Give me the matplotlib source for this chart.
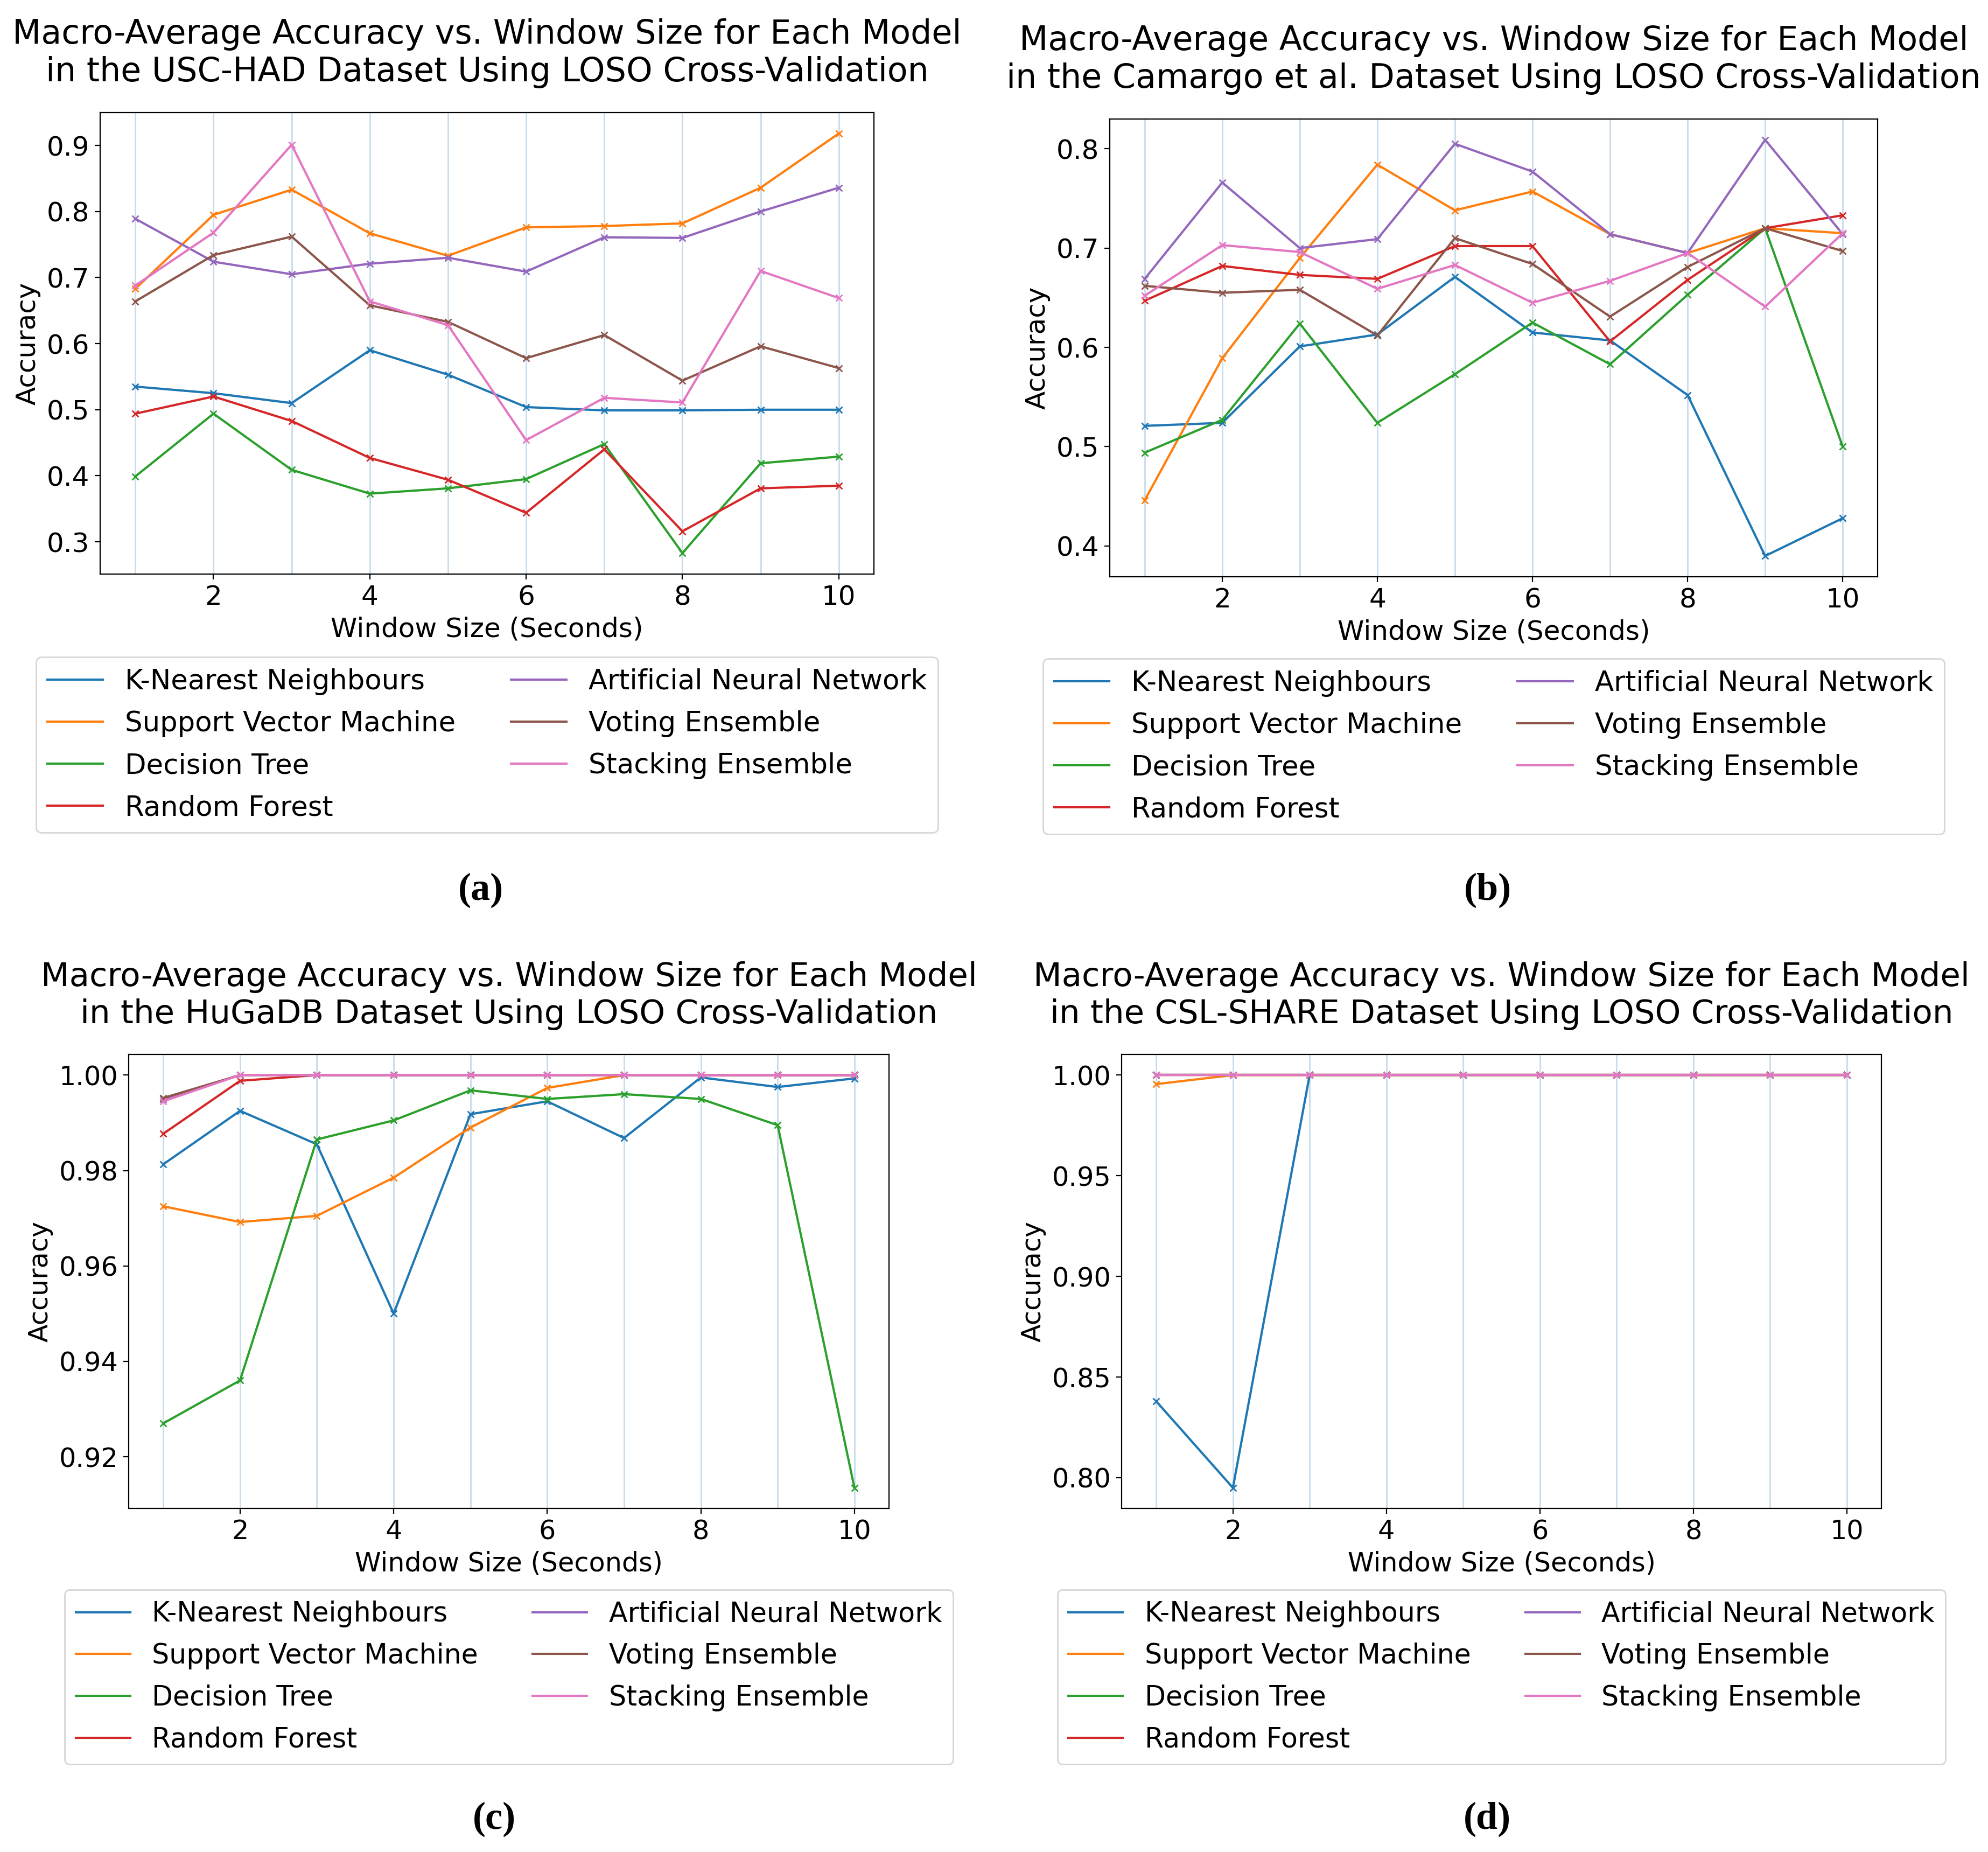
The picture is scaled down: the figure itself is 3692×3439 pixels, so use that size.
import matplotlib.pyplot as plt

plt.rcParams['font.family'] = 'DejaVu Sans'

window_sizes = [1, 2, 3, 4, 5, 6, 7, 8, 9, 10]
model_names = ['K-Nearest Neighbours', 'Support Vector Machine', 'Decision Tree',
               'Random Forest', 'Artificial Neural Network', 'Voting Ensemble',
               'Stacking Ensemble']
dataset_names = ['USC-HAD', 'Camargo et al.', 'HuGaDB', 'CSL-SHARE']
captions = ['(a)', '(b)', '(c)', '(d)']

# (a) USC-HAD
usc_knn = [0.535, 0.525, 0.510, 0.590, 0.553, 0.504, 0.499, 0.499, 0.500, 0.500]
usc_svm = [0.683, 0.795, 0.833, 0.767, 0.733, 0.776, 0.778, 0.782, 0.836, 0.918]
usc_dt = [0.399, 0.494, 0.409, 0.373, 0.381, 0.395, 0.448, 0.283, 0.419, 0.429]
usc_rf = [0.494, 0.520, 0.483, 0.427, 0.394, 0.344, 0.440, 0.316, 0.381, 0.385]
usc_ann = [0.789, 0.724, 0.705, 0.721, 0.730, 0.709, 0.761, 0.760, 0.800, 0.836]
usc_vote = [0.664, 0.734, 0.762, 0.658, 0.633, 0.578, 0.613, 0.544, 0.596, 0.563]
usc_stack = [0.688, 0.768, 0.901, 0.664, 0.628, 0.454, 0.518, 0.511, 0.710, 0.669]

# (b) Camargo et al.
cam_knn = [0.521, 0.524, 0.601, 0.613, 0.671, 0.615, 0.607, 0.552, 0.390, 0.428]
cam_svm = [0.446, 0.589, 0.690, 0.784, 0.738, 0.757, 0.714, 0.695, 0.720, 0.715]
cam_dt = [0.494, 0.527, 0.624, 0.524, 0.573, 0.625, 0.583, 0.653, 0.720, 0.500]
cam_rf = [0.647, 0.682, 0.673, 0.669, 0.702, 0.702, 0.606, 0.668, 0.720, 0.733]
cam_ann = [0.669, 0.766, 0.700, 0.709, 0.805, 0.777, 0.714, 0.695, 0.809, 0.714]
cam_vote = [0.662, 0.655, 0.658, 0.612, 0.710, 0.684, 0.631, 0.681, 0.720, 0.697]
cam_stack = [0.652, 0.703, 0.696, 0.659, 0.683, 0.645, 0.667, 0.695, 0.641, 0.715]

# (c) HuGaDB
hug_knn = [0.9813, 0.9925, 0.9855, 0.9500, 0.9918, 0.9945, 0.9868, 0.9995, 0.9975, 0.9993]
hug_svm = [0.9725, 0.9692, 0.9705, 0.9785, 0.9890, 0.9973, 1.0, 1.0, 1.0, 1.0]
hug_dt = [0.9270, 0.9360, 0.9865, 0.9905, 0.9968, 0.9950, 0.9960, 0.9950, 0.9895, 0.9135]
hug_rf = [0.9877, 0.9988, 1.0, 1.0, 1.0, 1.0, 1.0, 1.0, 1.0, 1.0]
hug_ann = [0.9950, 1.0, 1.0, 1.0, 1.0, 1.0, 1.0, 1.0, 1.0, 1.0]
hug_vote = [0.9952, 1.0, 1.0, 1.0, 1.0, 1.0, 1.0, 1.0, 1.0, 1.0]
hug_stack = [0.9945, 1.0, 1.0, 1.0, 1.0, 1.0, 1.0, 1.0, 1.0, 1.0]

# (d) CSL-SHARE
csl_knn = [0.838, 0.795, 1.0, 1.0, 1.0, 1.0, 1.0, 1.0, 1.0, 1.0]
csl_svm = [0.9955, 1.0, 1.0, 1.0, 1.0, 1.0, 1.0, 1.0, 1.0, 1.0]
csl_dt = [1.0, 1.0, 1.0, 1.0, 1.0, 1.0, 1.0, 1.0, 1.0, 1.0]
csl_rf = [1.0, 1.0, 1.0, 1.0, 1.0, 1.0, 1.0, 1.0, 1.0, 1.0]
csl_ann = [1.0, 1.0, 1.0, 1.0, 1.0, 1.0, 1.0, 1.0, 1.0, 1.0]
csl_vote = [1.0, 1.0, 1.0, 1.0, 1.0, 1.0, 1.0, 1.0, 1.0, 1.0]
csl_stack = [1.0, 1.0, 1.0, 1.0, 1.0, 1.0, 1.0, 1.0, 1.0, 1.0]

all_results = [
    [usc_knn, usc_svm, usc_dt, usc_rf, usc_ann, usc_vote, usc_stack],
    [cam_knn, cam_svm, cam_dt, cam_rf, cam_ann, cam_vote, cam_stack],
    [hug_knn, hug_svm, hug_dt, hug_rf, hug_ann, hug_vote, hug_stack],
    [csl_knn, csl_svm, csl_dt, csl_rf, csl_ann, csl_vote, csl_stack],
]

W, H = 3692, 3439
fig = plt.figure(figsize=(W / 200, H / 200), dpi=200)

# axes boxes in pixels: left, top, right, bottom
axes_px = [(186, 209, 1623, 1066), (2061, 221, 3487, 1071),
           (239, 1958, 1651, 2801), (2083, 1958, 3494, 2801)]
legend_top_px = [1220, 1223, 2952, 2952]
caption_px = [(893, 1653), (2763, 1653), (918, 3378), (2762, 3378)]
# the lower panels were pasted in a little smaller
font_scale = [1.0, 1.0, 0.985, 0.985]

for i in range(4):
    l, t, r, b = axes_px[i]
    s = font_scale[i]
    ax = fig.add_axes([l / W, 1 - b / H, (r - l) / W, (b - t) / H])
    for x in window_sizes:
        ax.axvline(x, color='C0', alpha=0.25, lw=1, zorder=0)
    for name, vals in zip(model_names, all_results[i]):
        ax.plot(window_sizes, vals, marker='x', markersize=4, label=name)
    ax.set_title('Macro-Average Accuracy vs. Window Size for Each Model\n'
                 'in the ' + dataset_names[i] + ' Dataset Using LOSO Cross-Validation',
                 fontsize=22.3 * s, pad=21)
    ax.set_xlabel('Window Size (Seconds)', fontsize=18 * s)
    ax.set_ylabel('Accuracy', fontsize=18 * s)
    ax.tick_params(labelsize=18 * s)

    # legend centred under the axes
    ly = (b - legend_top_px[i]) / (b - t)
    leg = ax.legend(loc='upper center', bbox_to_anchor=(0.5, ly), ncol=2,
                    fontsize=18.5 * s, borderaxespad=0, labelspacing=0.55)
    for h in leg.get_lines():
        h.set_marker('')

    cx, cy = caption_px[i]
    fig.text(cx / W, 1 - cy / H, captions[i], ha='center', va='center',
             fontsize=26, fontweight='bold', family='Liberation Serif')

fig.savefig('out.png', dpi=200)
